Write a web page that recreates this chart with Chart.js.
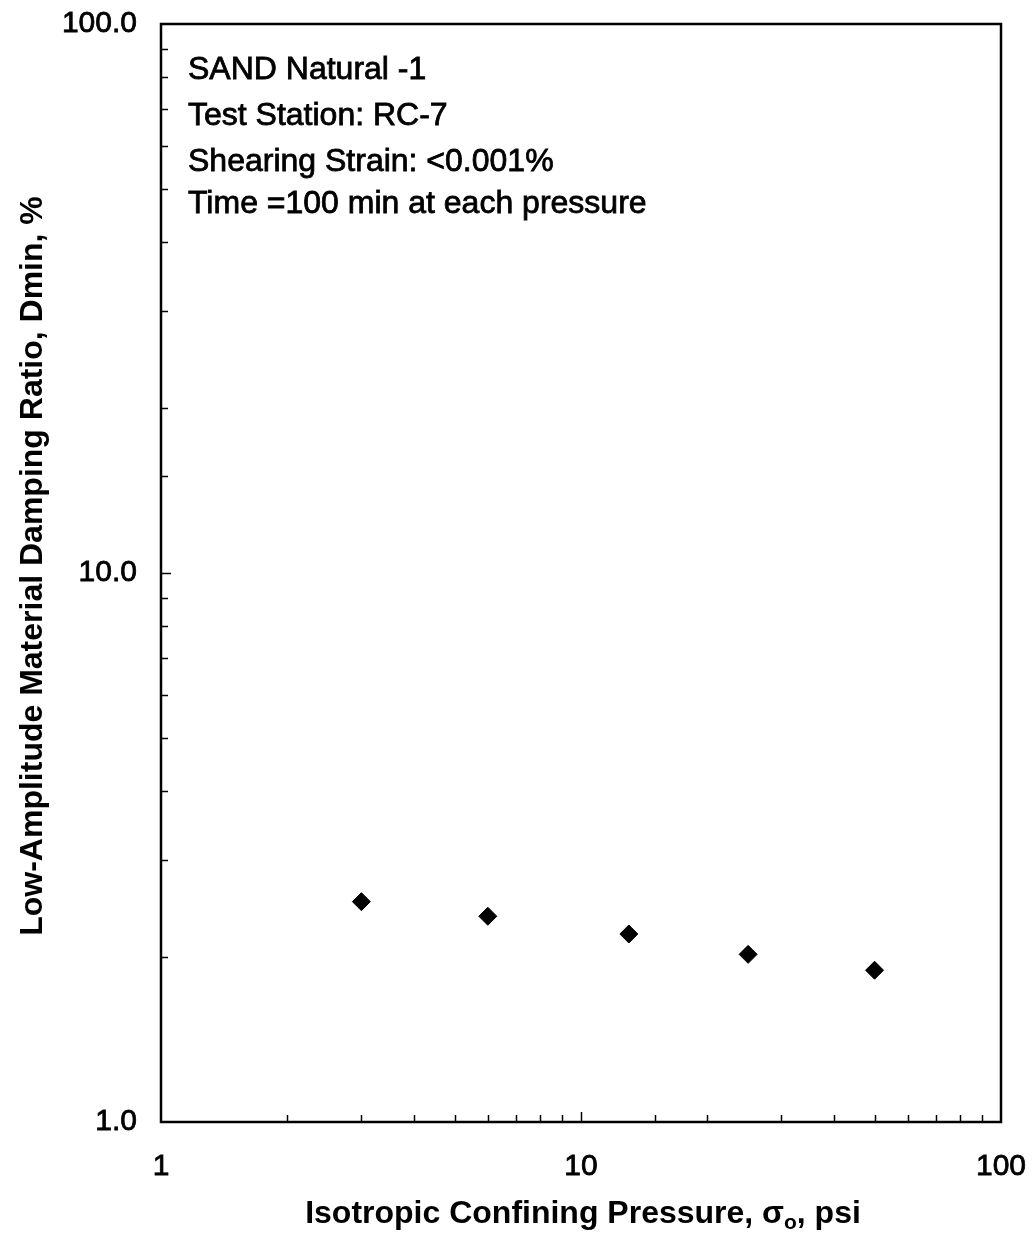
<!DOCTYPE html>
<html>
<head>
<meta charset="utf-8">
<script src="https://cdn.jsdelivr.net/npm/chart.js@4"></script>
<style>
  html, body { margin: 0; padding: 0; background: #fff; }
  canvas { display: block; }
</style>
</head>
<body>
<canvas id="dampingChart" width="1032" height="1243"></canvas>
<script>
// confining pressure steps (psi) and measured Dmin (%)
const pressurePsi = [3, 6, 13, 25, 50];
const dampingPct = [2.52, 2.37, 2.20, 2.02, 1.89];

// labelled decades on both log axes
const xMajorTicks = [1, 10, 100];
const xTickLabels = ['1', '10', '100'];
const yMajorTicks = [1, 10, 100];
const yTickLabels = ['1.0', '10.0', '100.0'];

// test info written in the upper left of the plot
const noteLines = [
  'SAND Natural -1',
  'Test Station: RC-7',
  'Shearing Strain: <0.001%',
  'Time =100 min at each pressure'
];

const FONT = "Arial, 'Liberation Sans', Helvetica, sans-serif";

// frame round the plot + inward tick marks (major longer than minor)
const frameTicks = {
  id: 'frameTicks',
  beforeDatasetsDraw(chart) {
    const { ctx, chartArea: a, scales } = chart;
    ctx.save();
    ctx.strokeStyle = '#000';
    ctx.lineWidth = 1.5;

    scales.x.ticks.forEach(t => {
      if (t.value <= scales.x.min || t.value >= scales.x.max) return;
      const px = Math.round(scales.x.getPixelForValue(t.value)) + 0.5;
      const len = xMajorTicks.includes(t.value) ? 10 : 7;
      ctx.beginPath();
      ctx.moveTo(px, a.bottom);
      ctx.lineTo(px, a.bottom - len);
      ctx.stroke();
    });

    scales.y.ticks.forEach(t => {
      if (t.value <= scales.y.min || t.value >= scales.y.max) return;
      const py = Math.round(scales.y.getPixelForValue(t.value)) + 0.5;
      const len = yMajorTicks.includes(t.value) ? 10 : 7;
      ctx.beginPath();
      ctx.moveTo(a.left, py);
      ctx.lineTo(a.left + len, py);
      ctx.stroke();
    });

    ctx.lineWidth = 2.5;
    ctx.strokeRect(a.left, a.top, a.right - a.left, a.bottom - a.top);
    ctx.restore();
  },
  afterDraw(chart) {
    const { ctx, chartArea: a } = chart;
    ctx.save();
    ctx.fillStyle = '#000';
    ctx.strokeStyle = '#000';

    // notes
    ctx.font = '32px ' + FONT;
    ctx.lineWidth = 0.8;
    ctx.textAlign = 'left';
    ctx.textBaseline = 'alphabetic';
    const baselines = [79, 125, 171, 213];
    noteLines.forEach((s, i) => {
      ctx.fillText(s, a.left + 27, baselines[i]);
      ctx.strokeText(s, a.left + 27, baselines[i]);
    });

    // x axis title, sigma with subscript o
    const big = 'bold 32px ' + FONT;
    const small = 'bold 21px ' + FONT;
    const p1 = 'Isotropic Confining Pressure, \u03c3';
    const sub = 'o';
    const p2 = ', psi';
    ctx.font = big;
    const w1 = ctx.measureText(p1).width;
    const w3 = ctx.measureText(p2).width;
    ctx.font = small;
    const w2 = ctx.measureText(sub).width;
    const total = w1 + w2 + w3;
    let x = (a.left + a.right) / 2 + 2 - total / 2;
    const yb = a.bottom + 101;
    ctx.font = big;
    ctx.fillText(p1, x, yb);
    x += w1;
    ctx.font = small;
    ctx.fillText(sub, x, yb + 6);
    x += w2;
    ctx.font = big;
    ctx.fillText(p2, x, yb);

    // y axis title
    ctx.translate(33, (a.top + a.bottom) / 2 - 7);
    ctx.rotate(-Math.PI / 2);
    ctx.font = big;
    ctx.textAlign = 'center';
    ctx.textBaseline = 'middle';
    ctx.fillText('Low-Amplitude Material Damping Ratio, Dmin, %', 0, 0);
    ctx.restore();
  }
};

new Chart(document.getElementById('dampingChart'), {
  type: 'scatter',
  data: {
    datasets: [{
      data: pressurePsi.map((p, i) => ({ x: p, y: dampingPct[i] })),
      pointStyle: 'rectRot',
      pointRadius: 9,
      pointHoverRadius: 9,
      backgroundColor: '#000',
      borderColor: '#000',
      borderWidth: 1,
      showLine: false
    }]
  },
  options: {
    responsive: false,
    animation: false,
    events: [],
    layout: { padding: { top: 24, right: 31, left: 0, bottom: 0 } },
    plugins: {
      legend: { display: false },
      tooltip: { enabled: false }
    },
    scales: {
      x: {
        type: 'logarithmic',
        min: 1,
        max: 100,
        grid: { display: false, drawTicks: false },
        border: { display: false },
        afterFit: s => {
          s.height = 121;
          s.paddingLeft = 0;
          s.paddingRight = 0;
        },
        ticks: {
          autoSkip: false,
          maxRotation: 0,
          padding: 27,
          color: '#000',
          textStrokeColor: '#000',
          textStrokeWidth: 0.8,
          font: { family: FONT, size: 30 },
          callback: v => {
            const k = xMajorTicks.indexOf(v);
            return k >= 0 ? xTickLabels[k] : '';
          }
        }
      },
      y: {
        type: 'logarithmic',
        min: 1,
        max: 100,
        grid: { display: false, drawTicks: false },
        border: { display: false },
        afterFit: s => {
          s.width = 161;
          s.paddingTop = 0;
          s.paddingBottom = 0;
        },
        ticks: {
          autoSkip: false,
          padding: 24,
          color: '#000',
          textStrokeColor: '#000',
          textStrokeWidth: 0.8,
          font: { family: FONT, size: 30 },
          callback: v => {
            const k = yMajorTicks.indexOf(v);
            return k >= 0 ? yTickLabels[k] : '';
          }
        }
      }
    }
  },
  plugins: [frameTicks]
});
</script>
</body>
</html>
